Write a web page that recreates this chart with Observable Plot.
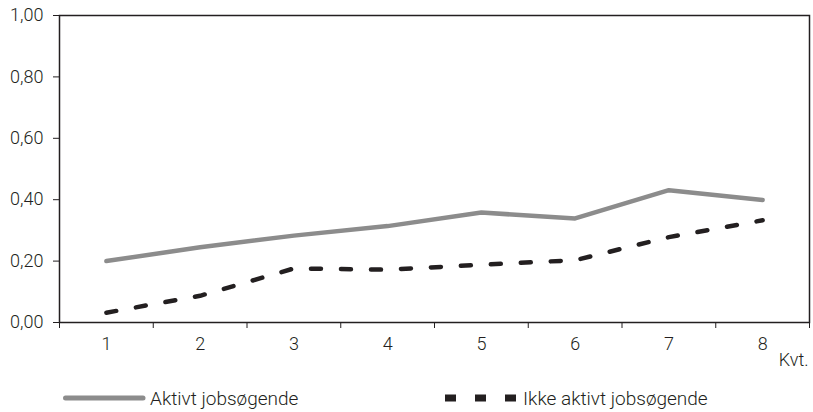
<!DOCTYPE html>
<html>
<head>
<meta charset="utf-8">
<script src="https://cdn.jsdelivr.net/npm/d3@7"></script>
<script src="https://cdn.jsdelivr.net/npm/@observablehq/plot@0.6"></script>
<style>
  html, body { margin: 0; padding: 0; background: #fff; }
  #wrap { position: relative; width: 813px; height: 412px; font-family: Roboto, "Noto Sans", sans-serif; font-weight: 300; color: #231f20; }
  .leg { position: absolute; top: 386px; height: 24px; display: flex; align-items: center; font-size: 19px; }
  .leg svg { display: block; }
</style>
</head>
<body>
<div id="wrap">
  <div id="chart"></div>
  <div class="leg" style="left:63px">
    <svg width="84" height="10"><line x1="2.5" x2="80" y1="5" y2="5" stroke="#8c8c8c" stroke-width="5" stroke-linecap="round"/></svg>
    <span style="margin-left:3px">Aktivt jobsøgende</span>
  </div>
  <div class="leg" style="left:445px">
    <svg width="71" height="10"><line x1="0" x2="71" y1="5" y2="5" stroke="#231f20" stroke-width="7" stroke-dasharray="11,19"/></svg>
    <span style="margin-left:7px">Ikke aktivt jobsøgende</span>
  </div>
</div>
<script>
const quarters = [1, 2, 3, 4, 5, 6, 7, 8];
const aktivt = [0.200, 0.245, 0.283, 0.314, 0.358, 0.339, 0.431, 0.399];
const ikkeAktivt = [0.032, 0.087, 0.176, 0.172, 0.188, 0.203, 0.278, 0.333];
const yTicks = [0, 0.2, 0.4, 0.6, 0.8, 1.0];
const xLabel = "Kvt.";

const dataA = quarters.map((q, i) => ({q, v: aktivt[i]}));
const dataB = quarters.map((q, i) => ({q, v: ikkeAktivt[i]}));
const bandEdges = [quarters[0] - 0.5, ...quarters.map(q => q + 0.5)];
const fmt = d => d.toFixed(2).replace(".", ",");

const chart = Plot.plot({
  width: 813,
  height: 378,
  marginLeft: 59,
  marginRight: 4,
  marginTop: 15,
  marginBottom: 56,
  style: {fontFamily: "Roboto, 'Noto Sans', sans-serif", fontSize: "18px", fontWeight: 300, color: "#231f20", background: "#fff"},
  x: {type: "linear", domain: [bandEdges[0], bandEdges[bandEdges.length - 1]]},
  y: {domain: [0, 1]},
  marks: [
    Plot.axisY({ticks: yTicks, tickFormat: fmt, tickSize: 6, tickPadding: 10, label: null, stroke: "#231f20"}),
    Plot.axisX({ticks: bandEdges, tickFormat: () => "", tickSize: 6, label: null, stroke: "#231f20"}),
    Plot.axisX({ticks: quarters, tickFormat: d => String(d), tickSize: 0, tickPadding: 15, label: null}),
    Plot.line(dataA, {x: "q", y: "v", stroke: "#8c8c8c", strokeWidth: 4.5}),
    Plot.line(dataB, {x: "q", y: "v", stroke: "#231f20", strokeWidth: 4.5, strokeDasharray: "10,20"}),
    Plot.frame({stroke: "#231f20", strokeWidth: 1.5}),
    Plot.text([xLabel], {frameAnchor: "bottom-right", textAnchor: "end", dx: -1, dy: 43, fill: "#231f20"})
  ]
});
document.getElementById("chart").appendChild(chart);
</script>
</body>
</html>
